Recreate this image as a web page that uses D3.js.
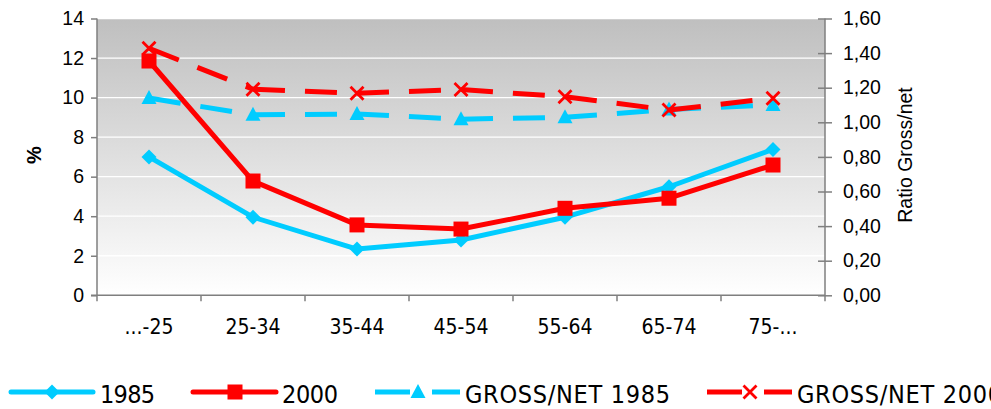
<!DOCTYPE html>
<html>
<head>
<meta charset="utf-8">
<script src="https://cdn.jsdelivr.net/npm/d3@7"></script>
<style>
  html, body { margin: 0; padding: 0; background: #ffffff; }
  svg { display: block; }
</style>
</head>
<body>
<svg id="chart" width="991" height="409"></svg>
<script>
// Age groups along the x axis
const categories = ["...-25", "25-34", "35-44", "45-54", "55-64", "65-74", "75-..."];

// Shares in percent (left axis)
const share1985 = [7.0, 3.95, 2.34, 2.80, 3.95, 5.49, 7.38];
const share2000 = [11.85, 5.78, 3.56, 3.35, 4.40, 4.91, 6.59];

// Gross/net ratios (right axis)
const ratio1985 = [1.14, 1.043, 1.048, 1.018, 1.029, 1.074, 1.10];
const ratio2000 = [1.428, 1.191, 1.168, 1.189, 1.148, 1.071, 1.139];

// Axis ticks
const leftTicks = [0, 2, 4, 6, 8, 10, 12, 14];
const rightTicks = [0, 0.2, 0.4, 0.6, 0.8, 1.0, 1.2, 1.4, 1.6];

const legendLabels = ["1985", "2000", "GROSS/NET 1985", "GROSS/NET 2000"];

const CYAN = "#00ccff";
const RED = "#ff0000";
const AXIS = "#7f7f7f";

const svg = d3.select("#chart");
const plot = { left: 97, right: 825, top: 18.5, bottom: 295.3 };

const x = d3.scaleBand().domain(categories).range([plot.left, plot.right]);
const yL = d3.scaleLinear().domain([0, 14]).range([plot.bottom, plot.top]);
const yR = d3.scaleLinear().domain([0, 1.6]).range([plot.bottom, plot.top]);
const cx = c => x(c) + x.bandwidth() / 2;

// Plot background: gray at the top fading to white
const defs = svg.append("defs");
const grad = defs.append("linearGradient")
  .attr("id", "bg").attr("x1", 0).attr("y1", 0).attr("x2", 0).attr("y2", 1);
grad.append("stop").attr("offset", "0%").attr("stop-color", "#bfbfbf");
grad.append("stop").attr("offset", "100%").attr("stop-color", "#ffffff");

svg.append("rect")
  .attr("x", plot.left).attr("y", plot.top)
  .attr("width", plot.right - plot.left).attr("height", plot.bottom - plot.top)
  .attr("fill", "url(#bg)");

// White horizontal gridlines
svg.append("g")
  .selectAll("line")
  .data(leftTicks.filter(d => d > 0))
  .join("line")
  .attr("x1", plot.left).attr("x2", plot.right)
  .attr("y1", d => yL(d)).attr("y2", d => yL(d))
  .attr("stroke", "#ffffff").attr("stroke-width", 1.3);

// Left axis
const axisL = svg.append("g")
  .attr("transform", `translate(${plot.left},0)`)
  .call(d3.axisLeft(yL).tickValues(leftTicks).tickSize(6).tickPadding(7).tickFormat(d3.format("d")));
axisL.select(".domain").attr("stroke", AXIS).attr("stroke-width", 1.5)
  .attr("d", `M0,${plot.top}V${plot.bottom + 6}`);
axisL.selectAll(".tick line").attr("stroke", AXIS).attr("stroke-width", 1.5);
axisL.selectAll("text")
  .attr("font-family", "'Liberation Sans', Arial, sans-serif")
  .attr("font-size", 19.5).attr("fill", "#000");

// Right axis (ticks cross the axis line)
const fmtR = d => d.toFixed(2).replace(".", ",");
const axisR = svg.append("g")
  .attr("transform", `translate(${plot.right},0)`)
  .call(d3.axisRight(yR).tickValues(rightTicks).tickSize(7).tickPadding(11).tickFormat(fmtR));
axisR.select(".domain").attr("stroke", AXIS).attr("stroke-width", 1.5)
  .attr("d", `M0,${plot.top}V${plot.bottom + 6}`);
axisR.selectAll(".tick line").attr("stroke", AXIS).attr("stroke-width", 1.5)
  .attr("x1", -7).attr("x2", 7);
axisR.selectAll("text")
  .attr("font-family", "'Liberation Sans', Arial, sans-serif")
  .attr("font-size", 19.5).attr("fill", "#000");

// Bottom axis with ticks between categories
const axisB = svg.append("g").attr("transform", `translate(0,${plot.bottom})`);
axisB.append("line")
  .attr("x1", plot.left - 6).attr("x2", plot.right)
  .attr("stroke", AXIS).attr("stroke-width", 1.5);
axisB.selectAll("line.sep")
  .data(categories.slice(1))
  .join("line").attr("class", "sep")
  .attr("x1", d => x(d)).attr("x2", d => x(d))
  .attr("y1", 0).attr("y2", 6)
  .attr("stroke", AXIS).attr("stroke-width", 1.5);
axisB.selectAll("text")
  .data(categories)
  .join("text")
  .attr("x", d => cx(d)).attr("y", 39)
  .attr("text-anchor", "middle")
  .attr("font-family", "'DejaVu Sans Condensed', 'DejaVu Sans', sans-serif")
  .attr("font-size", 21).attr("fill", "#000")
  .text(d => d);

// Axis titles
svg.append("text")
  .attr("transform", `translate(41,155) rotate(-90)`)
  .attr("text-anchor", "middle")
  .attr("font-family", "'Liberation Sans', Arial, sans-serif")
  .attr("font-weight", "bold").attr("font-size", 20)
  .text("%");
svg.append("text")
  .attr("transform", `translate(912,155) rotate(-90)`)
  .attr("text-anchor", "middle")
  .attr("font-family", "'Liberation Sans', Arial, sans-serif")
  .attr("font-size", 19.5)
  .text("Ratio Gross/net");

// Marker shapes
function drawMarker(g, kind, color) {
  if (kind === "diamond") {
    g.append("path").attr("d", "M0,-7.5L7.5,0L0,7.5L-7.5,0Z").attr("fill", color);
  } else if (kind === "square") {
    g.append("rect").attr("x", -7.5).attr("y", -7.5).attr("width", 15).attr("height", 15).attr("fill", color);
  } else if (kind === "triangle") {
    g.append("path").attr("d", "M0,-8L7.5,6L-7.5,6Z").attr("fill", color);
  } else if (kind === "cross") {
    g.append("path").attr("d", "M-6.5,-6.5L6.5,6.5M-6.5,6.5L6.5,-6.5")
      .attr("stroke", color).attr("stroke-width", 2.8).attr("fill", "none");
  }
}

const series = [
  { values: share1985, scale: yL, color: CYAN, marker: "diamond", dashed: false },
  { values: share2000, scale: yL, color: RED, marker: "square", dashed: false },
  { values: ratio1985, scale: yR, color: CYAN, marker: "triangle", dashed: true },
  { values: ratio2000, scale: yR, color: RED, marker: "cross", dashed: true }
];

const line = d3.line();
const drawOrder = [2, 3, 0, 1];
drawOrder.forEach(i => {
  const s = series[i];
  const pts = categories.map((c, k) => [cx(c), s.scale(s.values[k])]);
  const g = svg.append("g");
  if (s.dashed) {
    // dash pattern restarts at each point
    d3.pairs(pts).forEach(seg => {
      g.append("path").attr("d", line(seg))
        .attr("fill", "none").attr("stroke", s.color).attr("stroke-width", 5)
        .attr("stroke-dasharray", "32,20");
    });
  } else {
    g.append("path").attr("d", line(pts))
      .attr("fill", "none").attr("stroke", s.color).attr("stroke-width", 5)
      .attr("stroke-linejoin", "round");
  }
  pts.forEach(p => {
    drawMarker(g.append("g").attr("transform", `translate(${p[0]},${p[1]})`), s.marker, s.color);
  });
});

// Legend
const legendItems = [
  { x0: 11, x1: 93, mx: 52, tx: 100, w: 55, s: series[0] },
  { x0: 193, x1: 276, mx: 235, tx: 282, w: 56, s: series[1] },
  { x0: 375, x1: 460, mx: 418, tx: 465, w: 205, s: series[2] },
  { x0: 707, x1: 792, mx: 750, tx: 797, w: 205, s: series[3] }
];
const ly = 392;
legendItems.forEach((it, i) => {
  const g = svg.append("g");
  if (it.s.dashed) {
    g.append("line").attr("x1", it.x0).attr("x2", it.mx - 8).attr("y1", ly).attr("y2", ly)
      .attr("stroke", it.s.color).attr("stroke-width", 5);
    g.append("line").attr("x1", it.mx + 14).attr("x2", it.x1).attr("y1", ly).attr("y2", ly)
      .attr("stroke", it.s.color).attr("stroke-width", 5);
  } else {
    g.append("line").attr("x1", it.x0).attr("x2", it.x1).attr("y1", ly).attr("y2", ly)
      .attr("stroke", it.s.color).attr("stroke-width", 5).attr("stroke-linecap", "round");
  }
  drawMarker(g.append("g").attr("transform", `translate(${it.mx},${ly})`), it.s.marker, it.s.color);
  g.append("text")
    .attr("x", it.tx).attr("y", ly + 11)
    .attr("font-family", "'DejaVu Sans Condensed', 'DejaVu Sans', sans-serif")
    .attr("font-size", 25).attr("fill", "#000")
    .attr("textLength", it.w).attr("lengthAdjust", "spacing")
    .text(legendLabels[i]);
});
</script>
</body>
</html>
